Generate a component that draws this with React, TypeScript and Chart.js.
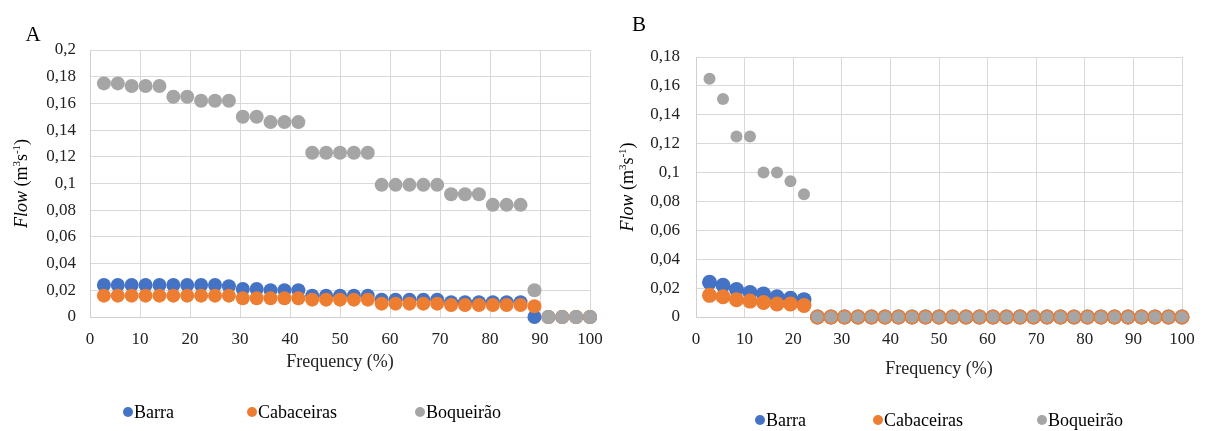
import React, { useEffect, useRef } from "react";
import { Chart, registerables } from "chart.js";

Chart.register(...registerables);

const FONT = '"Liberation Serif", "Times New Roman", serif';

// Frequency (%) of each ranked value (same for both panels)
const frequency = [
  2.78, 5.56, 8.33, 11.11, 13.89, 16.67, 19.44, 22.22, 25, 27.78, 30.56, 33.33,
  36.11, 38.89, 41.67, 44.44, 47.22, 50, 52.78, 55.56, 58.33, 61.11, 63.89, 66.67,
  69.44, 72.22, 75, 77.78, 80.56, 83.33, 86.11, 88.89, 91.67, 94.44, 97.22, 100,
];

const seriesNames = ["Barra", "Cabaceiras", "Boqueirão"];
const seriesColors = ["#4472C4", "#ED7D31", "#A5A5A5"];

// Panel A flows (m3 s-1)
const barraA = [
  0.024, 0.024, 0.024, 0.024, 0.024, 0.024, 0.024, 0.024, 0.024, 0.023,
  0.021, 0.021, 0.020, 0.020, 0.020, 0.016, 0.016, 0.016, 0.016, 0.016,
  0.013, 0.013, 0.013, 0.013, 0.013, 0.011, 0.011, 0.011, 0.011, 0.011,
  0.011, 0, 0, 0, 0, 0,
];
const cabaceirasA = [
  0.016, 0.016, 0.016, 0.016, 0.016, 0.016, 0.016, 0.016, 0.016, 0.016,
  0.014, 0.014, 0.014, 0.014, 0.014, 0.013, 0.013, 0.013, 0.013, 0.013,
  0.010, 0.010, 0.010, 0.010, 0.010, 0.009, 0.009, 0.009, 0.009, 0.009,
  0.009, 0.008, 0, 0, 0, 0,
];
const boqueiraoA = [
  0.175, 0.175, 0.173, 0.173, 0.173, 0.165, 0.165, 0.162, 0.162, 0.162,
  0.150, 0.150, 0.146, 0.146, 0.146, 0.123, 0.123, 0.123, 0.123, 0.123,
  0.099, 0.099, 0.099, 0.099, 0.099, 0.092, 0.092, 0.092, 0.084, 0.084,
  0.084, 0.020, 0, 0, 0, 0,
];

// Panel B flows (m3 s-1)
const barraB = [
  0.024, 0.022, 0.019, 0.017, 0.016, 0.014, 0.013, 0.012,
  0, 0, 0, 0, 0, 0, 0, 0, 0, 0, 0, 0, 0, 0, 0, 0, 0, 0, 0, 0, 0, 0, 0, 0, 0, 0, 0, 0,
];
const cabaceirasB = [
  0.015, 0.014, 0.012, 0.011, 0.010, 0.009, 0.009, 0.008,
  0, 0, 0, 0, 0, 0, 0, 0, 0, 0, 0, 0, 0, 0, 0, 0, 0, 0, 0, 0, 0, 0, 0, 0, 0, 0, 0, 0,
];
const boqueiraoB = [
  0.165, 0.151, 0.125, 0.125, 0.100, 0.100, 0.094, 0.085,
  0, 0, 0, 0, 0, 0, 0, 0, 0, 0, 0, 0, 0, 0, 0, 0, 0, 0, 0, 0, 0, 0, 0, 0, 0, 0, 0, 0,
];

const xTicksStep = 10;
const yTicksStep = 0.02;

const fmt = (v: number) => {
  const n = Number(Number(v).toFixed(2));
  return String(n).replace(".", ",");
};

const annotatePlugin = {
  id: "annotate",
  afterDraw(chart: any, _args: any, opts: any) {
    const ctx = chart.ctx as CanvasRenderingContext2D;
    const area = chart.chartArea;
    ctx.save();
    ctx.fillStyle = "#000";
    // Panel letter
    ctx.font = `21px ${FONT}`;
    ctx.textAlign = "center";
    ctx.textBaseline = "middle";
    ctx.fillText(opts.letter, opts.letterX, opts.letterY);

    // Y-axis title with italic "Flow" and superscripts
    const parts = [
      { t: "Flow", f: `italic 18px ${FONT}`, dy: 0 },
      { t: " (m", f: `18px ${FONT}`, dy: 0 },
      { t: "3", f: `11px ${FONT}`, dy: -7 },
      { t: "s", f: `18px ${FONT}`, dy: 0 },
      { t: "-1", f: `11px ${FONT}`, dy: -7 },
      { t: ")", f: `18px ${FONT}`, dy: 0 },
    ];
    let total = 0;
    const widths = parts.map((p) => {
      ctx.font = p.f;
      const w = ctx.measureText(p.t).width;
      total += w;
      return w;
    });
    const cy = (area.top + area.bottom) / 2;
    ctx.translate(opts.titleX, cy);
    ctx.rotate(-Math.PI / 2);
    ctx.textAlign = "left";
    ctx.textBaseline = "alphabetic";
    let x = -total / 2;
    parts.forEach((p, i) => {
      ctx.font = p.f;
      ctx.fillText(p.t, x, 6 + p.dy);
      x += widths[i];
    });
    ctx.setTransform(1, 0, 0, 1, 0, 0);

    // Legend
    ctx.font = `18px ${FONT}`;
    ctx.textBaseline = "middle";
    ctx.textAlign = "left";
    chart.data.datasets.forEach((ds: any, i: number) => {
      const lx = opts.legendX[i];
      const ly = opts.legendY;
      ctx.fillStyle = ds.backgroundColor;
      ctx.beginPath();
      ctx.arc(lx, ly, 5, 0, Math.PI * 2);
      ctx.fill();
      ctx.fillStyle = "#000";
      ctx.fillText(ds.label, lx + 6, ly + 1);
    });
    ctx.restore();
  },
};

type PanelCfg = {
  series: number[][];
  yMax: number;
  yWidth: number;
  yPad: number;
  top: number;
  right: number;
  xHeight: number;
  xTitlePad: number;
  radii: number[];
  letter: string;
  letterX: number;
  letterY: number;
  titleX: number;
  legendX: number[];
  legendY: number;
  height: number;
  plotBottom: number;
};

function Panel({ cfg, width }: { cfg: PanelCfg; width: number }) {
  const ref = useRef<HTMLCanvasElement | null>(null);
  useEffect(() => {
    if (!ref.current) return;
    const datasets = cfg.series.map((vals, i) => ({
      label: seriesNames[i],
      data: vals.map((v, j) => ({ x: frequency[j], y: v })),
      backgroundColor: seriesColors[i],
      borderColor: seriesColors[i],
      borderWidth: 0,
      pointRadius: cfg.radii[i],
      showLine: false,
      clip: false,
      order: 2 - i,
    }));
    const tickFont = { family: FONT, size: 17 };
    const chart = new Chart(ref.current, {
      type: "scatter",
      data: { datasets },
      plugins: [annotatePlugin],
      options: {
        responsive: false,
        animation: false,
        events: [],
        layout: {
          padding: {
            top: cfg.top,
            left: 0,
            right: cfg.right,
            bottom: cfg.height - cfg.plotBottom - cfg.xHeight,
          },
        },
        plugins: {
          legend: { display: false },
          tooltip: { enabled: false },
          annotate: {
            letter: cfg.letter,
            letterX: cfg.letterX,
            letterY: cfg.letterY,
            titleX: cfg.titleX,
            legendX: cfg.legendX,
            legendY: cfg.legendY,
          },
        } as any,
        scales: {
          x: {
            type: "linear",
            min: 0,
            max: 100,
            ticks: { stepSize: xTicksStep, font: tickFont, color: "#222", padding: 4, maxRotation: 0 },
            grid: { color: "#d9d9d9", drawTicks: true, tickLength: 8, tickColor: "rgba(0,0,0,0)" },
            border: { color: "#d0d0d0" },
            title: {
              display: true,
              text: "Frequency (%)",
              font: { family: FONT, size: 18 },
              color: "#222",
              padding: { top: 0, bottom: cfg.xTitlePad },
            },
            afterFit: (s: any) => {
              s.height = cfg.xHeight;
            },
          },
          y: {
            type: "linear",
            min: 0,
            max: cfg.yMax,
            ticks: {
              stepSize: yTicksStep,
              font: tickFont,
              color: "#222",
              padding: cfg.yPad,
              callback: (v: any) => fmt(v),
            },
            grid: { color: "#d9d9d9", drawTicks: false },
            border: { color: "#d0d0d0" },
            afterFit: (s: any) => {
              s.width = cfg.yWidth;
            },
          },
        },
      } as any,
    });
    return () => chart.destroy();
  }, []);
  return <canvas ref={ref} width={width} height={cfg.height} style={{ display: "block" }} />;
}

const panelA: PanelCfg = {
  series: [barraA, cabaceirasA, boqueiraoA],
  yMax: 0.2,
  yWidth: 90,
  yPad: 14,
  top: 50,
  right: 20,
  xHeight: 60,
  xTitlePad: 4,
  radii: [7, 7, 7],
  letter: "A",
  letterX: 33,
  letterY: 35,
  titleX: 21,
  legendX: [128, 252, 420],
  legendY: 412,
  height: 431,
  plotBottom: 317,
};

const panelB: PanelCfg = {
  series: [barraB, cabaceirasB, boqueiraoB],
  yMax: 0.18,
  yWidth: 96,
  yPad: 16,
  top: 57,
  right: 24,
  xHeight: 64,
  xTitlePad: 1,
  radii: [7.5, 7.5, 6],
  letter: "B",
  letterX: 39,
  letterY: 25,
  titleX: 27,
  legendX: [160, 278, 442],
  legendY: 420,
  height: 431,
  plotBottom: 317,
};

export default function App() {
  return (
    <div style={{ position: "absolute", left: 0, top: 0, width: 1206, height: 431, background: "#fff", overflow: "hidden" }}>
      <div style={{ position: "absolute", left: 0, top: 0 }}>
        <Panel cfg={panelA} width={610} />
      </div>
      <div style={{ position: "absolute", left: 600, top: 0 }}>
        <Panel cfg={panelB} width={606} />
      </div>
    </div>
  );
}
